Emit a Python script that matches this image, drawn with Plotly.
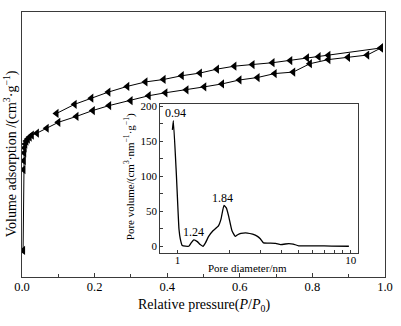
import numpy as np
import plotly.graph_objects as go

# Main isotherm: adsorption (lower) branch
ads_p = [0.003, 0.004, 0.005, 0.006, 0.007, 0.009, 0.012, 0.016, 0.021, 0.027,
         0.041, 0.068, 0.100, 0.150, 0.195, 0.240, 0.299, 0.349, 0.395, 0.453,
         0.502, 0.551, 0.599, 0.649, 0.696, 0.747, 0.793, 0.844, 0.898, 0.951, 0.989]
ads_v = [27, 109, 118, 126, 131, 135, 138, 140, 142, 144,
         146, 151, 157, 163, 169, 174, 179, 184, 187, 190,
         193, 196, 200, 202.5, 206.5, 208, 216.5, 220.7, 223, 225.3, 232.5]

# Desorption (upper) branch
des_p = [0.989, 0.844, 0.817, 0.785, 0.739, 0.690, 0.635, 0.585, 0.537, 0.490,
         0.440, 0.390, 0.340, 0.290, 0.238, 0.191, 0.145, 0.095]
des_v = [232.5, 225, 223.7, 222.5, 219.7, 217.5, 215.7, 214, 211, 207,
         204.3, 200.5, 198, 193.5, 187.7, 181.5, 175.3, 166]

# Inset: pore size distribution
pore_d = [0.933, 0.945, 0.983, 1.018, 1.036, 1.064, 1.16, 1.20, 1.24, 1.30, 1.35, 1.40,
          1.45, 1.51, 1.60, 1.72, 1.78, 1.85, 1.91, 1.97, 2.06, 2.15, 2.22, 2.32,
          2.53, 2.71, 2.89, 3.0, 3.13, 3.38, 3.68, 3.93, 4.39, 4.65, 5.0, 6.36, 7.74, 9.74]
pore_v = [166, 179, 103.6, 25, 11, 1.4, 0.4, 5.6, 9.4, 7, 2.8, 0.4,
          5.6, 14.4, 22.4, 29.4, 39, 58.4, 55, 43.4, 22.4, 14.4, 16.8, 18.6,
          19.2, 17.5, 14.4, 11, 5.2, 4.9, 4.6, 2.8, 4.2, 3.5, 1.0, 1.0, 0.7, 0.4]

peak_d = [0.94, 1.24, 1.84]
peak_v = [179, 9.4, 58.4]
peak_labels = ["0.94", "1.24", "1.84"]
peak_xshift = [3, 0, -1]

inset_y_ticks = [0, 50, 100, 150, 200]
inset_x_ticks = [1, 10]
inset_x_minor = [2, 3, 4, 5, 6, 7, 8, 9]
main_x_ticks = [0.0, 0.2, 0.4, 0.6, 0.8, 1.0]

FONT = "Liberation Serif"
LINE = "#3a3a3a"

fig = go.Figure()
marker = dict(symbol="triangle-left", size=8, color="black")
fig.add_trace(go.Scatter(x=ads_p, y=ads_v, mode="lines+markers",
                         line=dict(color="black", width=1), marker=marker,
                         xaxis="x", yaxis="y", showlegend=False))
fig.add_trace(go.Scatter(x=des_p, y=des_v, mode="lines+markers",
                         line=dict(color="black", width=1), marker=marker,
                         xaxis="x", yaxis="y", showlegend=False))
fig.add_trace(go.Scatter(x=pore_d, y=pore_v, mode="lines",
                         line=dict(color="black", width=1.3, shape="spline", smoothing=0.4),
                         xaxis="x2", yaxis="y2", showlegend=False))

annotations = []
for d, v, t, s in zip(peak_d, peak_v, peak_labels, peak_xshift):
    annotations.append(dict(x=float(np.log10(d)), y=v, xref="x2", yref="y2", text=t,
                            showarrow=False, yanchor="bottom", xshift=s, yshift=-1,
                            font=dict(family=FONT, size=12, color="black")))

annotations += [
    dict(x=0.5, y=-0.108, xref="paper", yref="paper", text="Relative pressure(<i>P</i>/<i>P</i><sub>0</sub>)",
         showarrow=False, yanchor="middle", xanchor="center",
         font=dict(family=FONT, size=14, color="black")),
    dict(x=-0.0318, y=0.465, xref="paper", yref="paper",
         text="Volume adsorption /(cm<sup>3</sup>·g<sup>−1</sup>)", textangle=-90,
         showarrow=False, yanchor="middle", xanchor="center",
         font=dict(family=FONT, size=14, color="black")),
    dict(x=0.295, y=0.377, xref="paper", yref="paper",
         text="Pore volume/(cm<sup>3</sup>·nm<sup>−1</sup>·g<sup>−1</sup>)", textangle=-90,
         showarrow=False, yanchor="middle", xanchor="center",
         font=dict(family=FONT, size=11, color="black")),
    dict(x=0.621, y=0.0346, xref="paper", yref="paper", text="Pore diameter/nm",
         showarrow=False, yanchor="middle", xanchor="center",
         font=dict(family=FONT, size=11, color="black")),
]

fig.update_layout(
    width=401, height=326,
    margin=dict(l=22, r=12, t=8, b=49),
    paper_bgcolor="white", plot_bgcolor="white",
    font=dict(family=FONT, color="black"),
    annotations=annotations,
    xaxis=dict(domain=[0, 1], range=[0, 1], tickvals=main_x_ticks, tickformat=".1f",
               ticks="inside", ticklen=4, tickcolor=LINE, ticklabelstandoff=-2,
               minor=dict(ticks="inside", dtick=0.1, ticklen=3, tickcolor=LINE),
               showline=True, linecolor=LINE, linewidth=1, mirror=True,
               showgrid=False, zeroline=False, tickfont=dict(family=FONT, size=12.5)),
    yaxis=dict(domain=[0, 1], range=[0, 269], showticklabels=False, ticks="",
               showline=True, linecolor=LINE, linewidth=1, mirror=True,
               showgrid=False, zeroline=False),
    xaxis2=dict(domain=[0.381, 0.926], anchor="y2", type="log", range=[-0.10, 1.042],
                tickvals=inset_x_ticks, ticktext=["1", "10"],
                ticks="inside", ticklen=3, tickcolor=LINE, ticklabelstandoff=-4,
                minor=dict(tickmode="array", tickvals=inset_x_minor, ticks="inside",
                           ticklen=3, tickcolor=LINE, showgrid=False),
                showline=True, linecolor=LINE, linewidth=1, mirror=True,
                showgrid=False, zeroline=False, tickfont=dict(family=FONT, size=11)),
    yaxis2=dict(domain=[0.089, 0.654], anchor="x2", range=[-9.8, 203.3],
                tickvals=inset_y_ticks, ticks="inside", ticklen=3, tickcolor=LINE,
                minor=dict(ticks="inside", dtick=25, ticklen=3, tickcolor=LINE),
                showline=True, linecolor=LINE, linewidth=1, mirror=True,
                showgrid=False, zeroline=False, tickfont=dict(family=FONT, size=11)),
)

fig.write_html("out.html")
